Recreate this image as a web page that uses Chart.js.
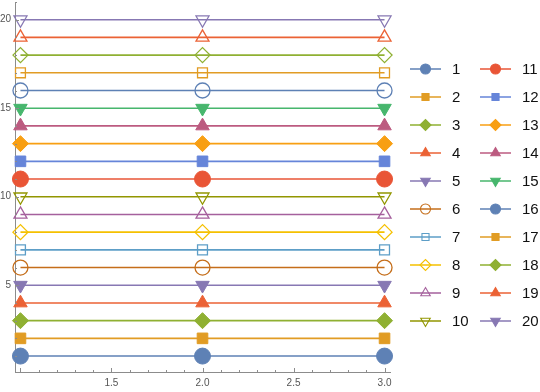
<!DOCTYPE html>
<html>
<head>
<meta charset="utf-8">
<script src="https://cdn.jsdelivr.net/npm/chart.js@4/dist/chart.umd.min.js"></script>
<style>
  body { margin: 0; background: #fff; }
  canvas { display: block; }
</style>
</head>
<body>
<canvas id="chart" width="540" height="392"></canvas>
<script>
// data
const xValues = [1, 2, 3];
const seriesLabels = ['1', '2', '3', '4', '5', '6', '7', '8', '9', '10',
  '11', '12', '13', '14', '15', '16', '17', '18', '19', '20'];
const seriesValues = [
  [1, 1, 1], [2, 2, 2], [3, 3, 3], [4, 4, 4], [5, 5, 5],
  [6, 6, 6], [7, 7, 7], [8, 8, 8], [9, 9, 9], [10, 10, 10],
  [11, 11, 11], [12, 12, 12], [13, 13, 13], [14, 14, 14], [15, 15, 15],
  [16, 16, 16], [17, 17, 17], [18, 18, 18], [19, 19, 19], [20, 20, 20]
];
const xTicks = [1.5, 2, 2.5, 3];
const yTicks = [5, 10, 15, 20];

// styles
const palette = ['#5E81B5', '#E19C24', '#8FB032', '#EB6235', '#8778B3',
  '#C56E1A', '#5D9EC7', '#F5C000', '#A5609D', '#929600',
  '#E95536', '#6685D9', '#F89F13', '#BC5B80', '#47B66D'];
const shapes = ['circle', 'rect', 'rectRot', 'triangle', 'triangle'];
const rotations = [0, 0, 0, 0, 180];
const plotRadius = { circle: 8, rect: 7.5, rectRot: 8, triangle: 7.8 };
const emptyRadius = { circle: 7.5, rect: 7, rectRot: 7.5, triangle: 7.5 };
const legendRadius = { circle: 5, rect: 5, rectRot: 5.5, triangle: 5.5 };

function isFilledInPlot(i) { return Math.floor(i / 5) % 2 == 0; }
function isFilledInLegend(i) { return i >= 10 || i < 5; }

const datasets = seriesValues.map((vals, i) => {
  const color = palette[i % palette.length];
  const shape = shapes[i % 5];
  const filled = isFilledInPlot(i);
  return {
    label: seriesLabels[i],
    data: xValues.map((x, k) => ({ x: x, y: vals[k] })),
    borderColor: color,
    borderWidth: 1.6,
    pointStyle: shape,
    pointRotation: rotations[i % 5],
    pointRadius: filled ? plotRadius[shape] : emptyRadius[shape],
    pointBackgroundColor: filled ? color : 'rgba(0,0,0,0)',
    pointBorderColor: color,
    pointBorderWidth: filled ? 1 : 1.3,
    clip: false,
    tension: 0
  };
});

const axisColor = '#8c8c8c';

// small inward ticks like the original axes
const axisTicks = {
  id: 'axisTicks',
  afterDraw(chart) {
    const ctx = chart.ctx;
    const xs = chart.scales.x, ys = chart.scales.y;
    ctx.save();
    ctx.strokeStyle = axisColor;
    ctx.lineWidth = 1;
    for (let k = 10; k <= 30; k++) {
      const px = Math.round(xs.getPixelForValue(k / 10)) + 0.5;
      const len = k % 5 == 0 ? 4 : 2;
      ctx.beginPath();
      ctx.moveTo(px, ys.bottom);
      ctx.lineTo(px, ys.bottom - len);
      ctx.stroke();
    }
    for (let v = 1; v <= 21; v++) {
      const py = Math.round(ys.getPixelForValue(v)) + 0.5;
      const len = v % 5 == 0 ? 4 : 2;
      ctx.beginPath();
      ctx.moveTo(xs.left, py);
      ctx.lineTo(xs.left + len, py);
      ctx.stroke();
    }
    ctx.restore();
  }
};

// two column legend with line + marker
const sideLegend = {
  id: 'sideLegend',
  afterDraw(chart) {
    const ctx = chart.ctx;
    const left = chart.chartArea.right + 20;
    ctx.save();
    chart.data.datasets.forEach((ds, i) => {
      const col = Math.floor(i / 10);
      const row = i % 10;
      const x0 = left + col * 70;
      const y = 69 + row * 28;
      const shape = shapes[i % 5];
      ctx.strokeStyle = ds.borderColor;
      ctx.lineWidth = 1.5;
      ctx.beginPath();
      ctx.moveTo(x0, y);
      ctx.lineTo(x0 + 31, y);
      ctx.stroke();
      const filled = isFilledInLegend(i);
      ctx.fillStyle = filled ? ds.borderColor : 'rgba(0,0,0,0)';
      ctx.strokeStyle = ds.borderColor;
      ctx.lineWidth = 1.1;
      Chart.helpers.drawPoint(ctx, {
        pointStyle: shape,
        radius: legendRadius[shape],
        rotation: rotations[i % 5],
        borderWidth: 1.1
      }, x0 + 15.5, y);
      ctx.fillStyle = '#111';
      ctx.font = '15px "Liberation Sans", Arial, sans-serif';
      ctx.textBaseline = 'middle';
      ctx.textAlign = 'left';
      ctx.fillText(ds.label, x0 + 42, y + 1);
    });
    ctx.restore();
  }
};

function noPad(scale) {
  scale.paddingTop = 0;
  scale.paddingBottom = 0;
  scale.paddingLeft = 0;
  scale.paddingRight = 0;
}

new Chart(document.getElementById('chart'), {
  type: 'line',
  data: { datasets: datasets },
  options: {
    responsive: false,
    animation: false,
    devicePixelRatio: 1,
    layout: { autoPadding: false, padding: { top: 2, right: 150, left: 0, bottom: 0 } },
    plugins: {
      legend: { display: false },
      tooltip: { enabled: false }
    },
    scales: {
      x: {
        type: 'linear',
        min: 0.97,
        max: 3.03,
        afterBuildTicks: s => { s.ticks = xTicks.map(v => ({ value: v })); },
        afterFit: s => { s.height = 20; noPad(s); },
        ticks: {
          padding: 5,
          color: '#555',
          font: { size: 10, family: '"Liberation Sans", Arial, sans-serif' },
          maxRotation: 0,
          callback: v => v.toFixed(1)
        },
        grid: { display: false, drawTicks: false },
        border: { display: true, color: axisColor, width: 1 }
      },
      y: {
        min: 0.1,
        max: 21,
        afterBuildTicks: s => { s.ticks = yTicks.map(v => ({ value: v })); },
        afterFit: s => { s.width = 15; noPad(s); },
        ticks: {
          padding: 4,
          color: '#555',
          font: { size: 10, family: '"Liberation Sans", Arial, sans-serif' },
          callback: v => String(v)
        },
        grid: { display: false, drawTicks: false },
        border: { display: true, color: axisColor, width: 1 }
      }
    }
  },
  plugins: [axisTicks, sideLegend]
});
</script>
</body>
</html>
